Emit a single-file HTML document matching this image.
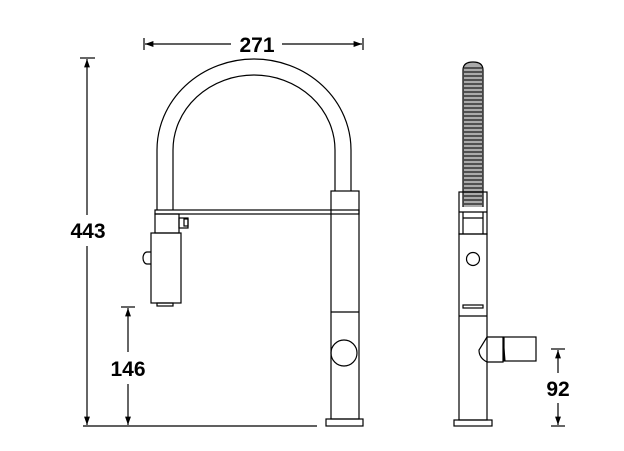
<!DOCTYPE html>
<html><head><style>html,body{margin:0;padding:0;background:#fff}svg{display:block}</style></head><body>
<svg width="624" height="451" viewBox="0 0 624 451" xmlns="http://www.w3.org/2000/svg" font-family="Liberation Sans, sans-serif">
<defs><marker id="a" viewBox="0 0 10 10" refX="10" refY="5" markerWidth="7" markerHeight="7" orient="auto-start-reverse"><path d="M0,1.5L10,5L0,8.5z" fill="#000"/></marker></defs>
<path d="M463,207 V70 Q463,62 473,62 Q483,62 483,70 V207 Z" fill="#aaa"/>
<g stroke="#333" stroke-width="1.6">
<path d="M464,68H482M464,72H482M464,76H482M464,80H482M464,84H482M464,88H482M464,92H482M464,96H482M464,100H482M464,104H482M464,108H482M464,112H482M464,116H482M464,120H482M464,124H482M464,128H482M464,132H482M464,136H482M464,140H482M464,144H482M464,148H482M464,152H482M464,156H482M464,160H482M464,164H482M464,168H482M464,172H482M464,176H482M464,180H482M464,184H482M464,188H482M464,192H482M464,196H482M464,200H482M464,204H482"/>
</g>
<g fill="none" stroke="#000" stroke-width="1.2">
<line x1="144" y1="38" x2="144" y2="50"/><line x1="363" y1="38" x2="363" y2="50"/>
<line x1="145" y1="44" x2="231" y2="44" marker-start="url(#a)"/>
<line x1="282" y1="44" x2="362" y2="44" marker-end="url(#a)"/>
<path d="M157,210 V150 A97,91 0 0 1 351,150 V191"/>
<path d="M173,210 V150 A81,75 0 0 1 335,150 V191"/>
<rect x="331" y="191" width="28" height="228"/>
<rect x="155" y="210" width="204" height="4"/>
<rect x="155" y="214" width="24" height="19"/>
<rect x="179" y="218" width="9" height="10"/>
<rect x="184" y="219" width="4" height="7"/>
<rect x="151" y="233" width="30" height="70"/>
<path d="M151,252 h-4 a4,6 0 0 0 0,12 h4"/>
<rect x="157" y="303" width="16" height="3"/>
<line x1="331" y1="312" x2="359" y2="312"/>
<circle cx="344" cy="353" r="13"/>
<rect x="326" y="419" width="37" height="7"/>
<line x1="83" y1="426" x2="317" y2="426"/>
<line x1="80" y1="58" x2="95" y2="58"/>
<line x1="87" y1="59" x2="87" y2="215" marker-start="url(#a)"/>
<line x1="87" y1="246" x2="87" y2="425" marker-end="url(#a)"/>
<line x1="121" y1="307" x2="135" y2="307"/>
<line x1="128" y1="308" x2="128" y2="352" marker-start="url(#a)"/>
<line x1="128" y1="384" x2="128" y2="425" marker-end="url(#a)"/>
<path d="M463,207 V70 Q463,62 473,62 Q483,62 483,70 V207"/>
<rect x="459" y="192" width="28" height="42"/>
<line x1="459" y1="212" x2="487" y2="212"/>
<line x1="463" y1="218" x2="483" y2="218"/>
<line x1="463" y1="212" x2="463" y2="234"/><line x1="483" y1="212" x2="483" y2="234"/>
<rect x="459" y="234" width="28" height="186"/>
<circle cx="473" cy="259" r="6.5"/>
<rect x="463" y="305" width="20" height="3"/>
<line x1="459" y1="316" x2="487" y2="316"/>
<path d="M487,337 h16 v25 h-16 q-8,-4 -8,-12 z"/>
<path d="M503,337 l2,24"/>
<rect x="504" y="337" width="32" height="24"/>
<rect x="454" y="420" width="38" height="6"/>
<line x1="551" y1="349" x2="565" y2="349"/><line x1="551" y1="426" x2="565" y2="426"/>
<line x1="558" y1="350" x2="558" y2="373" marker-start="url(#a)"/>
<line x1="558" y1="403" x2="558" y2="425" marker-end="url(#a)"/>
</g>
<g font-weight="bold" font-size="21" text-anchor="middle" fill="#000">
<text x="257" y="52">271</text>
<text x="88" y="238">443</text>
<text x="128" y="376">146</text>
<text x="558" y="396">92</text>
</g>
</svg>
</body></html>
